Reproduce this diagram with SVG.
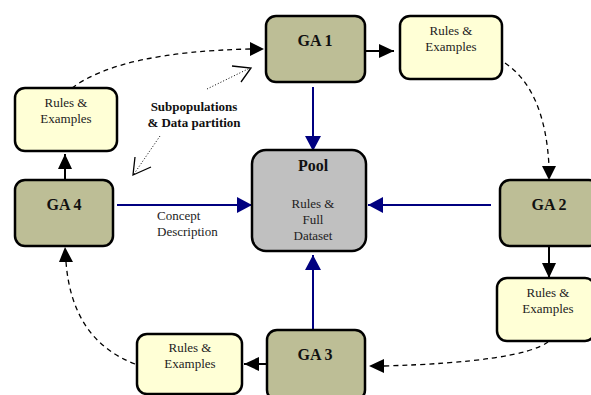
<svg xmlns="http://www.w3.org/2000/svg" width="591" height="395" viewBox="0 0 591 395">
<style>
.ga{fill:#BDBE96;stroke:#000;stroke-width:2.5}
.re{fill:#FFFFD6;stroke:#000;stroke-width:2.5}
.pool{fill:#C0C0C0;stroke:#000;stroke-width:2.5}
.t{font-family:"Liberation Serif","Times New Roman",serif;font-size:13px;fill:#222;text-anchor:middle}
.b{font-family:"Liberation Serif","Times New Roman",serif;font-weight:bold;fill:#111;text-anchor:middle}
.blk{stroke:#000;stroke-width:2;fill:none}
.blu{stroke:#000080;stroke-width:2;fill:none}
.dash{stroke:#000;stroke-width:1.3;fill:none;stroke-dasharray:5,4}
.dot{stroke:#000;stroke-width:1;fill:none;stroke-dasharray:1,2}
.arm{stroke:#000;stroke-width:1.3;fill:none}
</style>
<defs>
<marker id="ab" markerUnits="userSpaceOnUse" markerWidth="15" markerHeight="14" refX="15" refY="7" orient="auto"><path d="M0,0 L15,7 L0,14 z" fill="#000"/></marker>
<marker id="an" markerUnits="userSpaceOnUse" markerWidth="15" markerHeight="16" refX="15" refY="8" orient="auto"><path d="M0,0 L15,8 L0,16 z" fill="#000080"/></marker>
</defs>
<g id="connectors">
<line class="blk" x1="365" y1="51" x2="394" y2="51" marker-end="url(#ab)"/>
<line class="blu" x1="313" y1="87" x2="313" y2="151" marker-end="url(#an)"/>
<line class="blu" x1="491" y1="205" x2="368" y2="205" marker-end="url(#an)"/>
<line class="blk" x1="549" y1="246" x2="549" y2="278" marker-end="url(#ab)"/>
<line class="blu" x1="313" y1="330" x2="313" y2="255" marker-end="url(#an)"/>
<line class="blk" x1="267" y1="364" x2="244" y2="364" marker-end="url(#ab)"/>
<line class="blu" x1="117" y1="205" x2="252" y2="205" marker-end="url(#an)"/>
<line class="blk" x1="65" y1="180" x2="65" y2="154" marker-end="url(#ab)"/>
<path class="dash" d="M72,88 Q120,52 250,49"/>
<path d="M250,42 L264,49 L250,56 z" fill="#000"/>
<path class="dash" d="M505,63 Q545,90 549,166"/>
<path d="M542,166 L549,180 L556,166 z" fill="#000"/>
<path class="dash" d="M548,342 Q520,362 384,366"/>
<path d="M384,359 L369,366 L384,373 z" fill="#000"/>
<path class="dash" d="M135,364 Q72,340 66,262"/>
<path d="M59,262 L65,247 L73,262 z" fill="#000"/>
<line class="dot" x1="207" y1="89" x2="250" y2="68"/>
<path class="arm" d="M232,66 L251,68 L241,82"/>
<line class="dot" x1="160" y1="136" x2="134" y2="174"/>
<path class="arm" d="M135,157 L133,175 L151,167"/>
</g>
<g id="ga1"><rect class="ga" x="266" y="16" width="99" height="66" rx="10"/><text class="b" x="315" y="46" font-size="16">GA 1</text></g>
<g id="ga2"><rect class="ga" x="500" y="180" width="99" height="66" rx="10"/><text class="b" x="549" y="210" font-size="16">GA 2</text></g>
<g id="ga3"><rect class="ga" x="267" y="330" width="98" height="70" rx="10"/><text class="b" x="315" y="360" font-size="16">GA 3</text></g>
<g id="ga4"><rect class="ga" x="15" y="180" width="98" height="66" rx="10"/><text class="b" x="64" y="210" font-size="16">GA 4</text></g>
<g id="re1"><rect class="re" x="400" y="16" width="102" height="63" rx="10"/><text class="t" x="451" y="35">Rules &amp;</text><text class="t" x="451" y="51">Examples</text></g>
<g id="re2"><rect class="re" x="497" y="278" width="98" height="63" rx="10"/><text class="t" x="548" y="297">Rules &amp;</text><text class="t" x="548" y="313">Examples</text></g>
<g id="re3"><rect class="re" x="137" y="334" width="105" height="60" rx="10"/><text class="t" x="190" y="352">Rules &amp;</text><text class="t" x="190" y="368">Examples</text></g>
<g id="re4"><rect class="re" x="15" y="88" width="102" height="63" rx="10"/><text class="t" x="66" y="107">Rules &amp;</text><text class="t" x="66" y="123">Examples</text></g>
<g id="pool"><rect class="pool" x="252" y="150" width="114" height="101" rx="14"/><text class="b" x="313" y="171" font-size="16">Pool</text><text class="t" x="313" y="208">Rules &amp;</text><text class="t" x="313" y="224">Full</text><text class="t" x="313" y="240">Dataset</text></g>
<g id="labels">
<text class="t" x="157" y="220" style="text-anchor:start">Concept</text>
<text class="t" x="157" y="236" style="text-anchor:start">Description</text>
<text class="b" x="194" y="111" font-size="13">Subpopulations</text>
<text class="b" x="194" y="127" font-size="13">&amp; Data partition</text>
</g>
</svg>
